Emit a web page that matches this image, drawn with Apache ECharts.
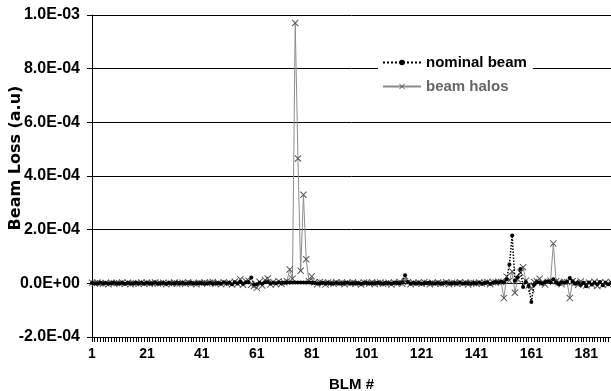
<!DOCTYPE html>
<html>
<head>
<meta charset="utf-8">
<script src="https://cdn.jsdelivr.net/npm/echarts@6/dist/echarts.min.js"></script>
<style>
html,body{margin:0;padding:0;background:#fff;}
#chart{width:611px;height:391px;}
</style>
</head>
<body>
<div id="chart"></div>
<script>
// BLM numbers 1..190
const categories = Array.from({length: 190}, (_, i) => String(i + 1));

const yTicks = [-2e-4, 0, 2e-4, 4e-4, 6e-4, 8e-4, 1e-3];

const nominalBeam = [
  1e-6,0,-1e-6,2e-6,0,1e-6,-1e-6,0,2e-6,-1e-6,
  0,1e-6,-2e-6,1e-6,0,-1e-6,2e-6,0,1e-6,-1e-6,
  1e-6,0,-1e-6,2e-6,-1e-6,0,1e-6,-2e-6,1e-6,0,
  -1e-6,2e-6,0,1e-6,-1e-6,0,2e-6,-1e-6,1e-6,0,
  1e-6,-1e-6,0,2e-6,-2e-6,1e-6,0,-1e-6,3e-6,0,
  2e-6,-3e-6,4e-6,-1e-6,6e-6,-2e-6,3e-6,5e-6,2.2e-5,-4e-6,
  -3e-6,2e-6,-2e-6,4e-6,5e-6,-1e-6,2e-6,0,3e-6,1e-6,
  2e-6,3e-6,3e-6,3e-6,3e-6,3e-6,3e-6,3e-6,3e-6,3e-6,
  2e-6,1e-6,0,-1e-6,2e-6,0,1e-6,-1e-6,0,1e-6,
  0,-1e-6,1e-6,2e-6,0,-1e-6,1e-6,0,-2e-6,1e-6,
  1e-6,0,-1e-6,1e-6,2e-6,0,-1e-6,1e-6,0,-1e-6,
  1e-6,2e-6,0,4e-6,3e-5,5e-6,-1e-6,1e-6,0,1e-6,
  -1e-6,0,1e-6,2e-6,-1e-6,0,1e-6,-1e-6,0,2e-6,
  0,-1e-6,1e-6,0,2e-6,-1e-6,0,1e-6,-2e-6,1e-6,
  0,2e-6,-1e-6,1e-6,3e-6,-2e-6,2e-6,5e-6,3e-6,6e-6,
  4e-6,1.5e-5,7e-5,1.78e-4,1e-5,2.3e-5,5.3e-5,-1.4e-5,5e-6,-1e-5,
  -7e-5,-5e-6,4e-6,3e-6,-2e-6,5e-6,8e-6,4e-6,1.5e-5,3e-6,
  -3e-6,4e-6,2e-6,6e-6,2e-5,8e-6,-2e-6,3e-6,-5e-6,2e-6,
  -1.1e-5,3e-6,-4e-6,2e-6,-3e-6,5e-6,-7e-6,2e-6,-3e-6,1e-6
];

const beamHalos = [
  2e-6,-1e-6,3e-6,0,-2e-6,1e-6,-3e-6,2e-6,0,1e-6,
  -2e-6,3e-6,-1e-6,2e-6,-3e-6,1e-6,0,-2e-6,3e-6,-1e-6,
  2e-6,-2e-6,1e-6,3e-6,-1e-6,0,2e-6,-3e-6,1e-6,-1e-6,
  3e-6,-2e-6,0,2e-6,-1e-6,4e-6,-2e-6,1e-6,-3e-6,2e-6,
  0,3e-6,-1e-6,2e-6,5e-6,-2e-6,1e-6,-3e-6,4e-6,-1e-6,
  2e-6,-4e-6,6e-6,-2e-6,1.5e-5,-5e-6,8e-6,1e-5,-5e-6,-1e-5,
  -1.6e-5,6e-6,-8e-6,1.2e-5,1.8e-5,-4e-6,5e-6,-3e-6,8e-6,-2e-6,
  3e-6,8e-6,5.2e-5,1.7e-5,9.7e-4,4.65e-4,4.7e-5,3.3e-4,9e-5,8e-6,
  2.6e-5,4e-6,-3e-6,5e-6,2e-6,-4e-6,3e-6,1e-6,-2e-6,4e-6,
  -1e-6,3e-6,-3e-6,2e-6,0,4e-6,-2e-6,1e-6,-4e-6,3e-6,
  2e-6,-1e-6,4e-6,-3e-6,1e-6,3e-6,-2e-6,0,2e-6,-4e-6,
  3e-6,-1e-6,5e-6,-2e-6,8e-6,4e-6,-3e-6,2e-6,-1e-6,3e-6,
  -2e-6,4e-6,1e-6,-3e-6,2e-6,-1e-6,3e-6,-2e-6,0,4e-6,
  -3e-6,2e-6,1e-6,-2e-6,4e-6,-1e-6,3e-6,-4e-6,2e-6,1e-6,
  -2e-6,3e-6,-1e-6,2e-6,5e-6,-3e-6,4e-6,3e-6,6e-6,5e-6,
  -5.5e-5,2.5e-5,1e-5,4.4e-5,-3.5e-5,1.5e-5,4e-5,6e-5,1e-5,-8e-6,
  -2e-5,5e-6,8e-6,1.7e-5,3e-6,-4e-6,6e-6,1e-5,1.48e-4,8e-6,
  4e-6,-3e-6,6e-6,5e-6,-5.5e-5,8e-6,2e-6,-5e-6,7e-6,-2e-6,
  -8e-6,3e-6,-4e-6,6e-6,-1e-5,2e-6,-6e-6,4e-6,-3e-6,5e-6
];

function sci(v) {
  if (Math.abs(v) < 1e-12) return '0.0E+00';
  const s = v.toExponential(1);
  const parts = s.split('e');
  const en = parseInt(parts[1], 10);
  return parts[0] + 'E' + (en < 0 ? '-' : '+') + String(Math.abs(en)).padStart(2, '0');
}

const FONT = '"Liberation Sans", Arial, sans-serif';
const WIDEFONT = '"DejaVu Sans", Verdana, sans-serif';
const crossPath = 'path://M0,1L1,0L5,4L9,0L10,1L6,5L10,9L9,10L5,6L1,10L0,9L4,5Z';

const chart = echarts.init(document.getElementById('chart'), null, {renderer: 'canvas'});
chart.setOption({
  animation: false,
  backgroundColor: '#ffffff',
  grid: {left: 92, right: 0, top: 15, bottom: 54, containLabel: false, outerBoundsMode: 'none'},
  legend: {
    orient: 'vertical',
    left: 378, top: 50,
    backgroundColor: '#ffffff',
    padding: [4, 6, 4, 4],
    itemWidth: 38, itemHeight: 7, itemGap: 7,
    textStyle: {fontFamily: FONT, fontWeight: 'bold', fontSize: 15, color: '#000', lineHeight: 17},
    data: [
      {name: 'nominal beam', textStyle: {color: '#000000'}},
      {name: 'beam halos', textStyle: {color: '#666666'}}
    ]
  },
  xAxis: {
    type: 'category',
    data: categories,
    boundaryGap: false,
    name: 'BLM #',
    nameLocation: 'middle',
    nameGap: 40,
    nameTextStyle: {fontFamily: FONT, fontWeight: 'bold', fontSize: 15, color: '#000'},
    axisLine: {onZero: false, lineStyle: {color: '#000', width: 1}},
    axisTick: {show: true, interval: 0, length: 5, inside: false, lineStyle: {color: '#000'}},
    axisLabel: {interval: 19, margin: 10, fontFamily: FONT, fontWeight: 'bold', fontSize: 14, color: '#000'},
    splitLine: {show: false}
  },
  yAxis: {
    type: 'value',
    min: -2e-4, max: 1e-3, interval: 2e-4,
    axisLine: {show: true, lineStyle: {color: '#000', width: 1}},
    axisTick: {show: true, length: 5, lineStyle: {color: '#000'}},
    axisLabel: {margin: 12, formatter: sci, fontFamily: FONT, fontWeight: 'bold', fontSize: 16, color: '#000'},
    splitLine: {show: true, lineStyle: {color: '#000', width: 1}}
  },
  graphic: [{
    type: 'text',
    x: 16, y: 158,
    rotation: Math.PI / 2,
    style: {
      text: 'Beam Loss (a.u)',
      font: 'bold 16px ' + WIDEFONT,
      fill: '#000',
      align: 'center',
      verticalAlign: 'middle'
    }
  }],
  series: [
    {
      name: 'beam halos',
      type: 'line',
      data: beamHalos,
      symbol: crossPath,
      symbolSize: 7,
      showAllSymbol: true,
      lineStyle: {color: '#8c8c8c', width: 1},
      itemStyle: {color: '#555555'},
      z: 2
    },
    {
      name: 'nominal beam',
      type: 'line',
      data: nominalBeam,
      symbol: 'circle',
      symbolSize: 4,
      showAllSymbol: true,
      lineStyle: {color: '#000000', width: 1.5, type: 'dotted'},
      itemStyle: {color: '#000000'},
      z: 3
    }
  ]
});
</script>
</body>
</html>
